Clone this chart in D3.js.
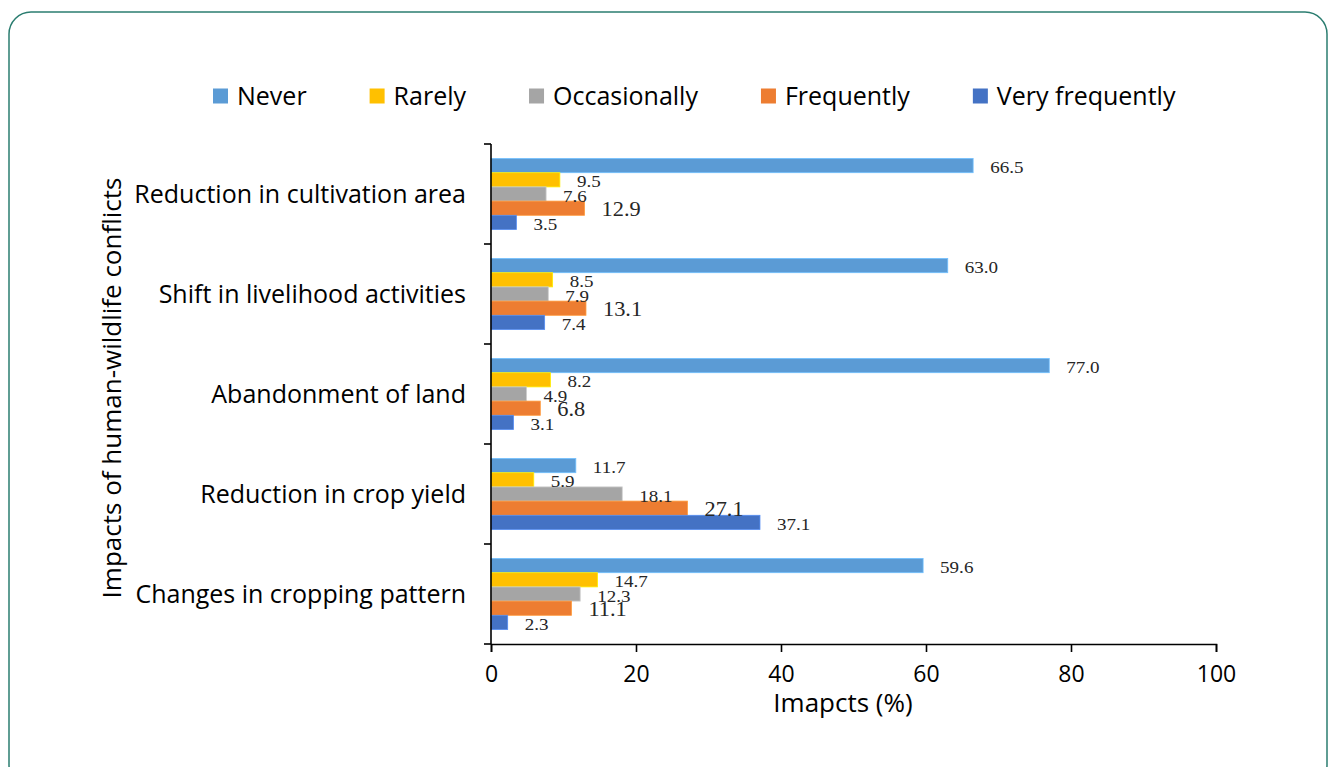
<!DOCTYPE html>
<html>
<head>
<meta charset="utf-8">
<script src="https://cdn.jsdelivr.net/npm/d3@7"></script>
<style>
  html, body { margin: 0; padding: 0; background: #ffffff; }
  svg { display: block; }
</style>
</head>
<body>
<svg id="chart" width="1328" height="767"></svg>
<script>
const categories = [
  "Reduction in cultivation area",
  "Shift in livelihood activities",
  "Abandonment of land",
  "Reduction in crop yield",
  "Changes in cropping pattern"
];
const seriesNames = ["Never", "Rarely", "Occasionally", "Frequently", "Very frequently"];
const never        = [66.5, 63.0, 77.0, 11.7, 59.6];
const rarely       = [9.5, 8.5, 8.2, 5.9, 14.7];
const occasionally = [7.6, 7.9, 4.9, 18.1, 12.3];
const frequently   = [12.9, 13.1, 6.8, 27.1, 11.1];
const veryFrequently = [3.5, 7.4, 3.1, 37.1, 2.3];
const xTicks = [0, 20, 40, 60, 80, 100];
const xTitle = "Imapcts (%)";
const yTitle = "Impacts of human-wildlife conflicts";

const seriesValues = [never, rarely, occasionally, frequently, veryFrequently];
const colors = ["#5B9BD5", "#FFC000", "#A5A5A5", "#ED7D31", "#4472C4"];
const labelSizes = [17, 17, 17, 20, 17];

const svg = d3.select("#chart");
const sansFont = "'Open Sans', 'Noto Sans', sans-serif";
const serifFont = "'Liberation Serif', 'Times New Roman', serif";

// frame
svg.append("rect")
  .attr("x", 9).attr("y", 12)
  .attr("width", 1318).attr("height", 775)
  .attr("rx", 22).attr("ry", 22)
  .attr("fill", "none")
  .attr("stroke", "#2b7d70")
  .attr("stroke-width", 1.5);

const plotLeft = 491, plotRight = 1216, plotTop = 144, plotBottom = 644;
const x = d3.scaleLinear().domain([0, 100]).range([plotLeft, plotRight]);
const pad = 0.29;
const y = d3.scaleBand().domain(categories).range([plotTop, plotBottom])
  .paddingInner(pad).paddingOuter(pad / 2);
const ySub = d3.scaleBand().domain(seriesNames).range([0, y.bandwidth()]).padding(0);

const data = [];
categories.forEach((c, i) => {
  seriesNames.forEach((s, j) => {
    data.push({ cat: c, series: s, si: j, value: seriesValues[j][i] });
  });
});

// bars
svg.append("g").selectAll("rect")
  .data(data).join("rect")
  .attr("x", x(0))
  .attr("y", d => y(d.cat) + ySub(d.series))
  .attr("width", d => x(d.value) - x(0))
  .attr("height", ySub.bandwidth())
  .attr("fill", d => colors[d.si])
  .attr("stroke", d => d3.color(colors[d.si]).brighter(0.6))
  .attr("stroke-width", 0.8);

// value labels (slightly widened, as in the reference)
svg.append("g").selectAll("text")
  .data(data).join("text")
  .attr("transform", d => `translate(${x(d.value) + 17},${y(d.cat) + ySub(d.series) + ySub.bandwidth() + 0.5}) scale(1.12,1)`)
  .attr("font-family", serifFont)
  .attr("font-size", d => labelSizes[d.si])
  .attr("fill", "#262626")
  .text(d => d.value.toFixed(1));

// x axis
const xAxis = svg.append("g")
  .attr("transform", `translate(0,${plotBottom})`)
  .call(d3.axisBottom(x).tickValues(xTicks).tickSize(8).tickPadding(14).tickFormat(d3.format("d")));
xAxis.select(".domain").attr("stroke", "#000").attr("stroke-width", 1.6);
xAxis.selectAll(".tick line").attr("stroke", "#000").attr("stroke-width", 1.6);
xAxis.selectAll(".tick text")
  .attr("font-family", sansFont).attr("font-size", 23).attr("fill", "#000");

// y axis: line + boundary ticks
const step = y.step();
const boundaries = d3.range(categories.length + 1).map(i => plotTop + i * step);
const yAxisG = svg.append("g");
yAxisG.append("line")
  .attr("x1", plotLeft).attr("x2", plotLeft)
  .attr("y1", plotTop).attr("y2", plotBottom)
  .attr("stroke", "#000").attr("stroke-width", 1.6);
yAxisG.selectAll("line.bt").data(boundaries).join("line")
  .attr("class", "bt")
  .attr("x1", plotLeft - 7).attr("x2", plotLeft)
  .attr("y1", d => d).attr("y2", d => d)
  .attr("stroke", "#000").attr("stroke-width", 1.6);

// category labels
svg.append("g").selectAll("text")
  .data(categories).join("text")
  .attr("x", plotLeft - 25)
  .attr("y", d => y(d) + y.bandwidth() / 2)
  .attr("dy", "0.35em")
  .attr("text-anchor", "end")
  .attr("font-family", sansFont).attr("font-size", 25).attr("fill", "#000")
  .text(d => d);

// axis titles
svg.append("text")
  .attr("x", 843).attr("y", 712)
  .attr("text-anchor", "middle")
  .attr("font-family", sansFont).attr("font-size", 26).attr("fill", "#000")
  .text(xTitle);

svg.append("text")
  .attr("transform", `translate(121,388) rotate(-90)`)
  .attr("text-anchor", "middle")
  .attr("font-family", sansFont).attr("font-size", 26).attr("fill", "#000")
  .text(yTitle);

// legend
const legend = svg.append("g");
let lx = 213;
seriesNames.forEach((s, j) => {
  legend.append("rect")
    .attr("x", lx).attr("y", 88.5)
    .attr("width", 15).attr("height", 15)
    .attr("fill", colors[j]);
  const t = legend.append("text")
    .attr("x", lx + 24).attr("y", 96)
    .attr("dy", "0.35em")
    .attr("font-family", sansFont).attr("font-size", 25).attr("fill", "#000")
    .text(s);
  const w = t.node().getComputedTextLength();
  lx = lx + 24 + w + 63;
});
</script>
</body>
</html>
